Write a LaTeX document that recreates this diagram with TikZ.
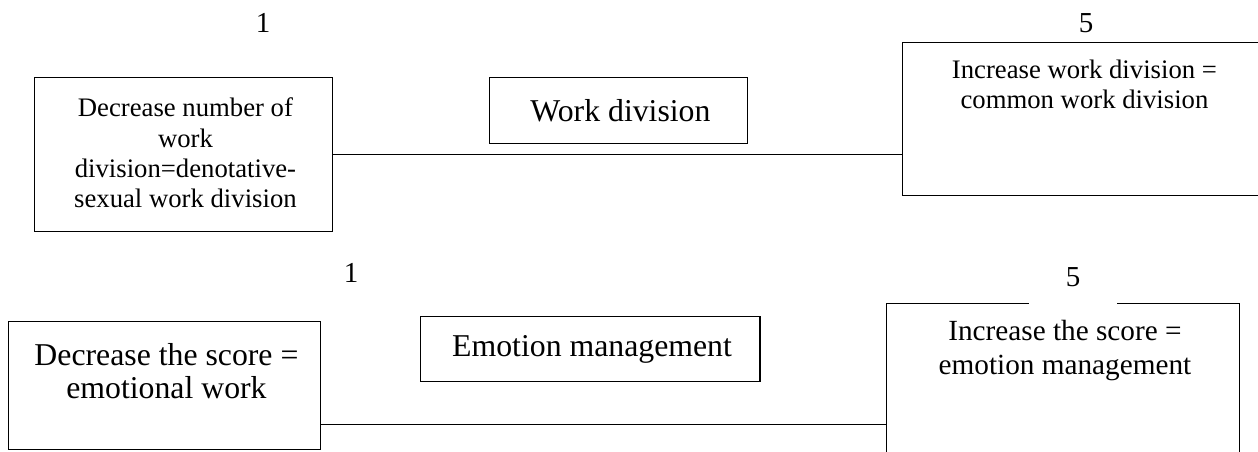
\documentclass[tikz,border=0pt]{standalone}
\usepackage{fontspec}
\setmainfont{Liberation Serif}
\usepackage{tikz}
\usetikzlibrary{
  positioning
  , calc
}
\def\smalltxt{ \fontsize{19}{21.5}\selectfont }
\def\midtxt{ \fontsize{20.8}{24.5}\selectfont }
\def\bigtxt{ \fontsize{22.6}{23}\selectfont }
\tikzset{
  box/.style={draw, line width=1pt, inner sep=0pt, anchor=north west},
  boxtext/.style={inner sep=0pt, align=center},
  score/.style={inner sep=0pt, anchor=north, font=\fontsize{20.6}{24}\selectfont},
  link/.style={line width=1pt},
}

\begin{document}
\begin{tikzpicture}
      \useasboundingbox (0,0) rectangle (31.45,-11.3);

      % work division scale
      \node [box, minimum width=7.45cm, minimum height=3.85cm] (TL) at (0.85,-1.925) {};
      \node [boxtext, font=\smalltxt, below=0.52cm of TL.north] (TLtext)
        {Decrease number of\\work\\division=denotative-\\sexual work division};
      \node [box, minimum width=9cm, minimum height=3.825cm] (TR) at (22.55,-1.05) {};
      \node [boxtext, font=\smalltxt, below=0.43cm of TR.north] (TRtext)
        {Increase work division =\\common work division};
      \node [box, font=\bigtxt, minimum width=6.45cm, minimum height=1.65cm] (WD) at (12.225,-1.925) {Work division};
      \node [score] (one1) at (6.575,-0.33) {1};
      \node [score] (five1) at (27.15,-0.33) {5};
      \draw [link] (TL.east) -- (TL.east -| TR.west);

      % emotion management scale
      \node [box, minimum width=7.8cm, minimum height=3.2cm] (BL) at (0.2,-8.025) {};
      \node [boxtext, font=\bigtxt, below=0.56cm of BL.north] (BLtext)
        {Decrease the score =\\emotional work};
      \node [box, minimum width=8.825cm, minimum height=3.9cm] (BR) at (22.15,-7.575) {};
      \node [boxtext, font=\midtxt, below=0.42cm of BR.north] (BRtext)
        {Increase the score =\\emotion management};
      \node [box, font=\bigtxt, inner xsep=0.7cm, minimum height=1.625cm] (EM) at (10.5,-7.9) {Emotion management};
      \node [score] (one2) at (8.775,-6.57) {1};
      \node [score, fill=white, minimum width=2.2cm, minimum height=1cm, text depth=0.38cm] (five2) at (26.825,-6.6) {5};
      \coordinate (Eline) at ([yshift=0.65cm]BL.south east);
      \draw [link] (Eline) -- (Eline -| BR.west);
    \end{tikzpicture}
\end{document}
